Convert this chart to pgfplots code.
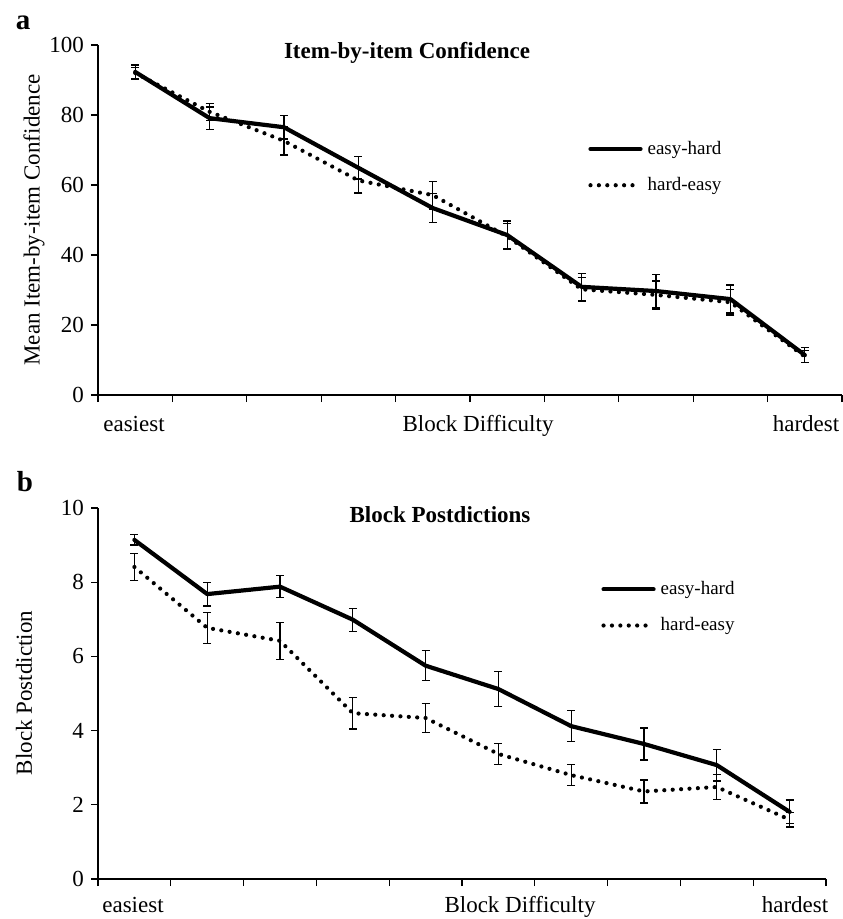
\documentclass[border=0pt]{standalone}
\usepackage{fontspec}
\setmainfont{Liberation Serif}
\usepackage{pgfplots}
\pgfplotsset{compat=1.18}

\newcommand\lbl{\fontsize{11.5}{13}\selectfont}
\newcommand\leg{\fontsize{9.5}{11}\selectfont}

\pgfplotsset{
  blockaxis/.style={
    scale only axis,
    axis x line=bottom, axis y line=left,
    axis line style={line width=0.6pt, -},
    tick style={line width=0.6pt, black},
    tick align=outside, major tick length=3.5pt,
    xmin=0, xmax=10, xtick={0,...,10}, xticklabels={},
    /pgf/number format/assume math mode=true,
    yticklabel style={font=\lbl},
    clip=false,
    legend style={draw=none, fill=none, font=\leg, inner sep=0pt,
      row sep=10pt, column sep=2.5pt, nodes={inner sep=0pt, text depth=0.15em}},
    legend cell align=left,
    legend image code/.code={\draw[##1] (0pt,0pt) -- (25pt,0pt);},
  },
  easyhard/.style={black, line width=2.1pt, line join=round, line cap=round, mark=none},
  hardeasy/.style={black, line width=2.1pt, line cap=round, dash pattern=on 0pt off 4.2pt, mark=none},
  ebar/.style={
    error bars/y dir=both, error bars/y explicit,
    error bars/error bar style={solid, line width=0.65pt, line cap=butt},
    error bars/error mark options={rotate=90, mark size=2pt, line width=0.65pt, solid},
  },
}

\begin{document}
\begin{tikzpicture}
% 1 px of the reference = 0.5pt
\useasboundingbox (0pt,0pt) rectangle (421pt,-459.5pt);
\coordinate (oa) at (49pt,-197.5pt);
\coordinate (ob) at (49pt,-439.5pt);

% ---- panel a ----
\begin{axis}[blockaxis,
    at={(oa)}, anchor=south west,
    width=372pt, height=175pt,
    ymin=0, ymax=100, ytick={0,20,...,100},
    legend style={at={(axis cs:6.586,65.1)}, anchor=west},
]
\addplot[easyhard, ebar] coordinates {
  (0.5,92.3) +- (0,2.0)
  (1.5,79.1) +- (0,3.2)
  (2.5,76.5) +- (0,3.4)
  (3.5,64.9) +- (0,3.2)
  (4.5,53.4) +- (0,4.2)
  (5.5,45.7) +- (0,4.0)
  (6.5,30.9) +- (0,3.9)
  (7.5,29.7) +- (0,4.8)
  (8.5,27.4) +- (0,4.0)
  (9.5,11.4) +- (0,2.2)
};
\addlegendentry{easy-hard}
\addplot[hardeasy, ebar] coordinates {
  (0.5,92.0) +- (0,1.6)
  (1.5,80.9) +- (0,2.4)
  (2.5,72.6) +- (0,4.0)
  (3.5,61.3) +- (0,3.6)
  (4.5,57.1) +- (0,4.0)
  (5.5,45.3) +- (0,3.6)
  (6.5,30.2) +- (0,3.4)
  (7.5,28.6) +- (0,4.0)
  (8.5,26.5) +- (0,3.6)
  (9.5,11.0) +- (0,1.8)
};
\addlegendentry{hard-easy}
\end{axis}

% ---- panel b ----
\begin{axis}[blockaxis,
    at={(ob)}, anchor=south west,
    width=364pt, height=185.5pt,
    ymin=0, ymax=10, ytick={0,2,...,10},
    legend style={at={(axis cs:6.91,7.32)}, anchor=west},
]
\addplot[easyhard, ebar] coordinates {
  (0.5,9.14) +- (0,0.14)
  (1.5,7.68) +- (0,0.32)
  (2.5,7.88) +- (0,0.30)
  (3.5,6.99) +- (0,0.31)
  (4.5,5.75) +- (0,0.40)
  (5.5,5.12) +- (0,0.47)
  (6.5,4.12) +- (0,0.42)
  (7.5,3.64) +- (0,0.43)
  (8.5,3.07) +- (0,0.43)
  (9.5,1.81) +- (0,0.32)
};
\addlegendentry{easy-hard}
\addplot[hardeasy, ebar] coordinates {
  (0.5,8.41) +- (0,0.37)
  (1.5,6.77) +- (0,0.42)
  (2.5,6.42) +- (0,0.50)
  (3.5,4.47) +- (0,0.43)
  (4.5,4.34) +- (0,0.39)
  (5.5,3.37) +- (0,0.28)
  (6.5,2.80) +- (0,0.28)
  (7.5,2.36) +- (0,0.31)
  (8.5,2.48) +- (0,0.33)
  (9.5,1.60) +- (0,0.20)
};
\addlegendentry{hard-easy}
\end{axis}

% ---- texts ----
\node[font=\fontsize{14.5}{16}\selectfont\bfseries] at (11.5pt,-11.5pt) {a};
\node[font=\fontsize{14.5}{16}\selectfont\bfseries] at (12.5pt,-241pt) {b};
\node[font=\lbl\bfseries] at (203.5pt,-26.5pt) {Item-by-item Confidence};
\node[font=\lbl\bfseries] at (220pt,-257.5pt) {Block Postdictions};
\node[font=\lbl, rotate=90] at (17pt,-110pt) {Mean Item-by-item Confidence};
\node[font=\lbl, rotate=90] at (12pt,-346.5pt) {Block Postdiction};
\node[font=\lbl, anchor=base] at (67pt,-215.5pt) {easiest};
\node[font=\lbl, anchor=base] at (239pt,-215.5pt) {Block Difficulty};
\node[font=\lbl, anchor=base] at (403pt,-215.5pt) {hardest};
\node[font=\lbl, anchor=base] at (66.5pt,-456pt) {easiest};
\node[font=\lbl, anchor=base] at (260pt,-456pt) {Block Difficulty};
\node[font=\lbl, anchor=base] at (397.5pt,-456pt) {hardest};
\end{tikzpicture}
\end{document}
